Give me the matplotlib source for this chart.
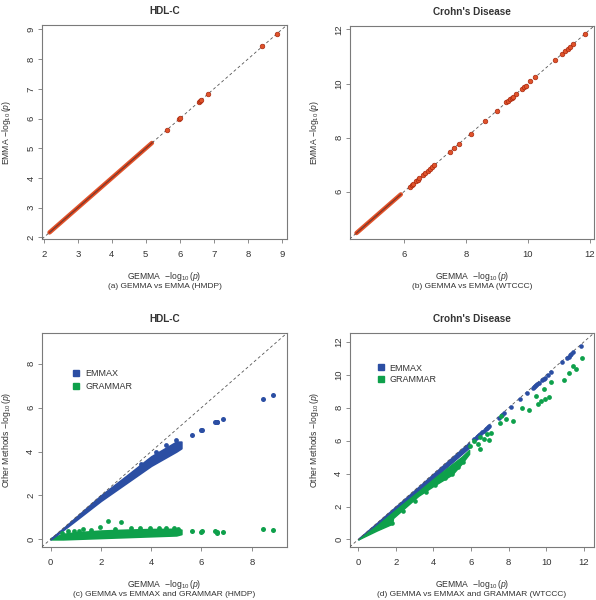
import matplotlib
matplotlib.use("Agg")
import matplotlib.pyplot as plt
from matplotlib.lines import Line2D

plt.rcParams["font.family"] = ["Liberation Sans", "DejaVu Sans"]
plt.rcParams["mathtext.fontset"] = "custom"
plt.rcParams["mathtext.rm"] = "Liberation Sans"
plt.rcParams["mathtext.it"] = "Liberation Sans:italic"

RED, RED_DARK = "#E0532B", "#A8280E"
BLUE = "#2B4EA3"
GREEN = "#0EA04B"
TXT = "#333333"
GRAY = "#7a7a7a"

# --- HDL-C (HMDP) ---
hdl_dense = [2.17, 5.18]  # continuous run of points on the diagonal
hdl_gemma = [5.63, 5.98, 6.02, 6.55, 6.60, 6.63, 6.84, 8.43, 8.85]
hdl_emma = [5.63, 5.98, 6.02, 6.55, 6.60, 6.63, 6.84, 8.43, 8.85]
hdl_emmax = [4.74, 4.97, 5.00, 5.35, 5.35, 5.36, 5.47, 6.41, 6.57]
hdl_grammar = [0.39, 0.35, 0.36, 0.38, 0.31, 0.33, 0.35, 0.45, 0.42]

# dense bands (edges)
hdl_band_x = [0, 0.5, 1, 2, 3, 4, 5, 5.2]
hdl_emmax_hi = [0.02, 0.5, 1.0, 2.0, 2.88, 3.78, 4.45, 4.45]
hdl_emmax_lo = [0, 0.42, 0.86, 1.75, 2.55, 3.35, 4.0, 4.15]
hdl_gram_hi = [0.05, 0.25, 0.32, 0.40, 0.44, 0.47, 0.48, 0.44]
hdl_gram_lo = [0, 0, 0.02, 0.06, 0.10, 0.14, 0.18, 0.24]
hdl_gram_out_x = [0.45, 0.70, 0.93, 1.15, 1.30, 1.61, 1.96, 2.29, 2.55, 2.82,
                  3.20, 3.55, 3.97, 4.30, 4.60, 4.89, 5.05]
hdl_gram_out_y = [0.30, 0.36, 0.40, 0.38, 0.45, 0.42, 0.55, 0.83, 0.48, 0.80,
                  0.50, 0.52, 0.52, 0.50, 0.53, 0.50, 0.46]
hdl_emmax_out_x = [3.60, 4.20, 4.60, 5.00]
hdl_emmax_out_y = [3.45, 3.98, 4.30, 4.51]

# --- Crohn's Disease (WTCCC) ---
cd_dense = [4.47, 5.90]
cd_gemma = [6.18, 6.25, 6.30, 6.38, 6.45, 6.50, 6.60, 6.68, 6.78, 6.85, 6.90,
            6.97, 7.48, 7.63, 7.78, 8.15, 8.62, 9.00, 9.30, 9.36, 9.42, 9.47,
            9.52, 9.62, 9.80, 9.86, 9.92, 10.08, 10.24, 10.86, 11.10, 11.20,
            11.28, 11.35, 11.45, 11.85]
cd_emma = [6.18, 6.25, 6.30, 6.38, 6.45, 6.50, 6.60, 6.68, 6.78, 6.85, 6.90,
           6.97, 7.48, 7.63, 7.78, 8.15, 8.62, 9.00, 9.30, 9.36, 9.42, 9.47,
           9.52, 9.62, 9.80, 9.86, 9.92, 10.08, 10.24, 10.86, 11.10, 11.20,
           11.28, 11.35, 11.45, 11.85]
cd_emmax = [6.10, 6.17, 6.22, 6.30, 6.37, 6.42, 6.52, 6.60, 6.70, 6.77, 6.82,
            6.89, 7.40, 7.55, 7.70, 8.07, 8.54, 8.92, 9.22, 9.28, 9.34, 9.39,
            9.44, 9.54, 9.72, 9.78, 9.84, 10.00, 10.16, 10.78, 11.02, 11.12,
            11.20, 11.27, 11.37, 11.75]
cd_gram_x = [5.97, 6.15, 6.37, 6.49, 6.50, 6.69, 6.86, 6.95, 7.08, 7.57, 7.60,
             7.84, 8.23, 8.73, 9.09, 9.44, 9.56, 9.71, 9.89, 9.92, 10.15, 10.28,
             10.95, 11.22, 11.43, 11.57, 11.89]
cd_gram_y = [5.70, 6.00, 5.80, 5.48, 6.20, 6.10, 6.40, 6.06, 6.50, 7.07, 7.50,
             7.35, 7.19, 7.97, 7.87, 8.72, 8.22, 8.42, 9.12, 8.52, 8.68, 9.56,
             9.67, 10.09, 10.57, 10.39, 11.00]
cd_gram_out_x = [1.78, 2.40, 3.00, 3.60, 4.10, 4.60, 5.00, 5.30, 5.55]
cd_gram_out_y = [0.97, 1.75, 2.35, 2.90, 3.30, 3.75, 3.99, 4.40, 4.69]
cd_emmax_band_x = [0, 1, 3, 5.9]
cd_emmax_hi = [0.05, 1.02, 3.0, 5.9]
cd_emmax_lo = [0, 0.80, 2.72, 5.58]
cd_gram_band_x = [0, 1, 1.8, 1.85, 2.2, 3.2, 4, 5, 5.5, 5.9]
cd_gram_hi = [0, 0.86, 1.62, 1.67, 2.0, 2.92, 3.68, 4.58, 5.02, 5.45]
cd_gram_lo = [0, 0.55, 0.95, 1.30, 1.65, 2.65, 3.25, 3.95, 4.60, 5.20]

fig = plt.figure(figsize=(5.96, 6.0), dpi=100)
axa = fig.add_axes([0.0705, 0.6017, 0.411, 0.3567])
axb = fig.add_axes([0.5867, 0.6017, 0.410, 0.3550])
axc = fig.add_axes([0.0700, 0.0883, 0.4116, 0.3567])
axd = fig.add_axes([0.5867, 0.0883, 0.410, 0.3567])


def style(ax, lim, ticks, title, ylab, sub):
    ax.set_xlim(lim)
    ax.set_ylim(lim)
    ax.set_xticks(ticks)
    ax.set_yticks(ticks)
    for s in ax.spines.values():
        s.set_color(GRAY)
        s.set_linewidth(0.8)
    ax.tick_params(direction="out", length=3.2, width=0.6, colors=GRAY,
                   labelcolor=TXT, labelsize=6.8)
    ax.tick_params(axis="x", pad=4.5)
    ax.tick_params(axis="y", pad=1.5)
    for lab in ax.get_yticklabels():
        lab.set_rotation(90)
        lab.set_va("center")
    ax.axline((0, 0), slope=1, color="#555555", lw=0.6, dashes=(3.5, 3),
              zorder=3)
    ax.set_title(title, fontsize=7.2, fontweight="bold", color=TXT, pad=8)
    ax.set_ylabel(ylab + r" $-\log_{10}(p)$", fontsize=6.2, color=TXT,
                  va="center")
    ax.yaxis.set_label_coords(-0.145, 0.5)
    ax.text(0.5, -0.175, r"GEMMA  $-\log_{10}(p)$", transform=ax.transAxes,
            ha="center", va="center", fontsize=6.2, color=TXT)
    ax.text(0.5, -0.222, sub, transform=ax.transAxes, ha="center",
            va="center", fontsize=6, color=TXT)


# (a)
axa.plot(hdl_dense, hdl_dense, color=RED, lw=3.2, solid_capstyle="round",
         zorder=2)
axa.plot(hdl_dense, hdl_dense, color=RED_DARK, lw=1.0, zorder=2)
axa.scatter(hdl_gemma, hdl_emma, s=11, c=RED, edgecolors=RED_DARK,
            linewidths=0.5, zorder=4)
style(axa, (1.95, 9.15), range(2, 10), "HDL-C", "EMMA",
      "(a) GEMMA vs EMMA (HMDP)")

# (b)
axb.plot(cd_dense, cd_dense, color=RED, lw=3.2, solid_capstyle="round",
         zorder=2)
axb.plot(cd_dense, cd_dense, color=RED_DARK, lw=1.0, zorder=2)
axb.scatter(cd_gemma, cd_emma, s=11, c=RED, edgecolors=RED_DARK,
            linewidths=0.5, zorder=4)
style(axb, (4.25, 12.13), [6, 8, 10, 12], "Crohn's Disease", "EMMA",
      "(b) GEMMA vs EMMA (WTCCC)")

# (c)
axc.fill_between(hdl_band_x, hdl_gram_lo, hdl_gram_hi, color=GREEN, lw=1.2,
                 edgecolor=GREEN, zorder=2)
axc.fill_between(hdl_band_x, hdl_emmax_lo, hdl_emmax_hi, color=BLUE, lw=1.2,
                 edgecolor=BLUE, zorder=2)
axc.scatter(hdl_gram_out_x, hdl_gram_out_y, s=12, c=GREEN, lw=0, zorder=4)
axc.scatter(hdl_emmax_out_x, hdl_emmax_out_y, s=12, c=BLUE, lw=0, zorder=4)
axc.scatter(hdl_gemma, hdl_emmax, s=13, c=BLUE, lw=0, zorder=4)
axc.scatter(hdl_gemma, hdl_grammar, s=13, c=GREEN, lw=0, zorder=4)
style(axc, (-0.35, 9.4), [0, 2, 4, 6, 8], "HDL-C", "Other Methods",
      "(c) GEMMA vs EMMAX and GRAMMAR (HMDP)")

# (d)
axd.fill_between(cd_emmax_band_x, cd_emmax_lo, cd_emmax_hi, color=BLUE,
                 lw=1.0, edgecolor=BLUE, zorder=2)
axd.fill_between(cd_gram_band_x, cd_gram_lo, cd_gram_hi, color=GREEN,
                 lw=1.0, edgecolor=GREEN, zorder=2)
axd.scatter(cd_gram_out_x, cd_gram_out_y, s=11, c=GREEN, lw=0, zorder=2)
axd.scatter(cd_gemma, cd_emmax, s=11, c=BLUE, lw=0, zorder=4)
axd.scatter(cd_gram_x, cd_gram_y, s=12, c=GREEN, lw=0, zorder=4)
style(axd, (-0.46, 12.55), range(0, 13, 2), "Crohn's Disease",
      "Other Methods", "(d) GEMMA vs EMMAX and GRAMMAR (WTCCC)")

handles = [Line2D([], [], ls="", marker="s", ms=4, color=BLUE),
           Line2D([], [], ls="", marker="s", ms=4, color=GREEN)]
for ax, anchor, sp in [(axc, (0.09, 0.87), 0.45), (axd, (0.075, 0.895), 0.25)]:
    ax.legend(handles, ["EMMAX", "GRAMMAR"], loc="upper left",
              bbox_to_anchor=anchor, frameon=False, fontsize=6.5,
              handletextpad=0.5, labelspacing=sp, handlelength=1.0,
              labelcolor=TXT)

fig.savefig("out.png", dpi=100)
